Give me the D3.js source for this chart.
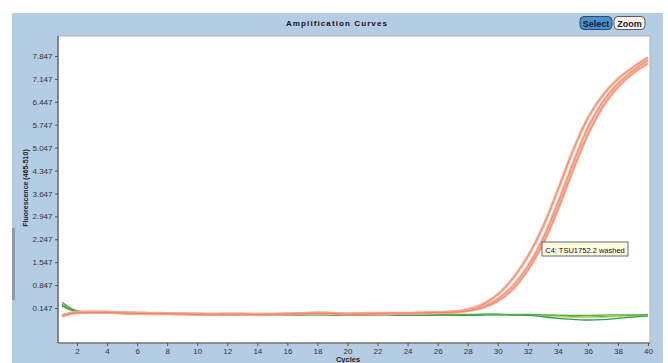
<!DOCTYPE html>
<html><head><meta charset="utf-8">
<script src="https://cdn.jsdelivr.net/npm/d3@7"></script>
<style>
html,body{margin:0;padding:0;background:#fff;}
svg{display:block;}
text{font-family:"Liberation Sans Narrow","Liberation Sans",Arial,sans-serif;}
</style></head>
<body>
<svg id="c" width="668" height="363"></svg>
<script>
const cycles = d3.range(1, 41);
const xTicks = d3.range(2, 41, 2);
const yTicks = [0.147, 0.847, 1.547, 2.247, 2.947, 3.647, 4.347, 5.047, 5.747, 6.447, 7.147, 7.847];

const red1 = [-0.10, 0.02, 0.03, 0.02, 0.01, 0.00, -0.01, -0.02, -0.03, -0.03, -0.04, -0.03, -0.04, -0.05, -0.04, -0.03, -0.02, 0.00, -0.01, -0.03, -0.02, -0.01, -0.02, -0.02, -0.01, 0.00, 0.03, 0.10, 0.26, 0.56, 1.05, 1.72, 2.62, 3.75, 4.95, 5.95, 6.65, 7.15, 7.50, 7.80];
const red2 = [-0.08, 0.01, 0.02, 0.02, 0.00, -0.01, -0.02, -0.02, -0.04, -0.04, -0.05, -0.04, -0.05, -0.04, -0.05, -0.04, -0.03, -0.01, -0.02, -0.03, -0.03, -0.02, -0.02, -0.01, -0.01, 0.01, 0.02, 0.07, 0.19, 0.42, 0.82, 1.42, 2.25, 3.35, 4.55, 5.65, 6.45, 7.00, 7.40, 7.72];
const red3 = [-0.09, 0.00, 0.01, 0.01, -0.01, -0.02, -0.02, -0.03, -0.03, -0.05, -0.05, -0.05, -0.04, -0.06, -0.05, -0.04, -0.02, -0.01, -0.02, -0.04, -0.04, -0.03, -0.01, -0.02, 0.00, 0.01, 0.02, 0.06, 0.16, 0.36, 0.72, 1.30, 2.10, 3.15, 4.35, 5.45, 6.30, 6.90, 7.32, 7.62];

const green1 = [0.32, 0.06, 0.02, 0.01, -0.01, -0.02, -0.03, -0.04, -0.04, -0.05, -0.06, -0.05, -0.06, -0.07, -0.06, -0.07, -0.06, -0.05, -0.06, -0.06, -0.07, -0.05, -0.06, -0.06, -0.07, -0.06, -0.06, -0.07, -0.05, -0.05, -0.06, -0.06, -0.08, -0.10, -0.12, -0.13, -0.12, -0.10, -0.09, -0.08];
const green2 = [0.22, 0.04, 0.01, 0.00, -0.02, -0.03, -0.03, -0.05, -0.05, -0.06, -0.07, -0.07, -0.08, -0.08, -0.07, -0.08, -0.07, -0.06, -0.07, -0.08, -0.08, -0.06, -0.07, -0.08, -0.08, -0.07, -0.07, -0.08, -0.07, -0.06, -0.07, -0.08, -0.12, -0.17, -0.20, -0.22, -0.21, -0.17, -0.13, -0.10];
const green3 = [0.26, 0.05, 0.02, 0.01, 0.00, -0.02, -0.02, -0.03, -0.04, -0.04, -0.05, -0.06, -0.05, -0.06, -0.06, -0.05, -0.05, -0.04, -0.05, -0.05, -0.06, -0.05, -0.05, -0.05, -0.06, -0.05, -0.05, -0.05, -0.04, -0.04, -0.05, -0.05, -0.06, -0.07, -0.08, -0.08, -0.07, -0.06, -0.06, -0.05];
const yellow1 = [0.18, 0.03, 0.01, 0.00, -0.01, -0.03, -0.04, -0.04, -0.05, -0.06, -0.07, -0.06, -0.07, -0.07, -0.08, -0.07, -0.06, -0.06, -0.06, -0.07, -0.08, -0.07, -0.06, -0.07, -0.07, -0.06, -0.07, -0.07, -0.06, -0.06, -0.06, -0.07, -0.09, -0.12, -0.14, -0.15, -0.14, -0.12, -0.10, -0.09];

const svg = d3.select("#c");
// panel
svg.append("rect").attr("x", 12).attr("y", 13).attr("width", 651).attr("height", 350).attr("fill", "#b5cde4");
svg.append("rect").attr("x", 12).attr("y", 228).attr("width", 3).attr("height", 72).attr("fill", "#8f9aa6");

const L = 58, R = 650, T = 36, B = 343;
const x = d3.scaleLinear().domain([1, 40]).range([62, 648]);
const y = d3.scaleLinear().domain([0.147, 7.847]).range([308, 56]);

svg.append("rect").attr("x", L).attr("y", T).attr("width", R - L).attr("height", B - T)
  .attr("fill", "#fff").attr("stroke", "#b9b2b0").attr("stroke-width", 1);

// title
svg.append("text").attr("x", 337).attr("y", 26).attr("text-anchor", "middle")
  .attr("font-size", 8).attr("font-weight", "bold").attr("letter-spacing", "1.1px")
  .style("font-family", "'Liberation Sans',Arial,sans-serif").attr("fill", "#111").text("Amplification Curves");

// buttons
const btn = svg.append("g");
btn.append("rect").attr("x", 580).attr("y", 16.5).attr("width", 32).attr("height", 13).attr("rx", 4)
  .attr("fill", "#4d8fcb").attr("stroke", "#2d4a66").attr("stroke-width", 1);
btn.append("text").attr("x", 596).attr("y", 26.5).attr("text-anchor", "middle").attr("font-size", 9)
  .attr("font-weight", "bold").attr("fill", "#0e1e33").text("Select");
btn.append("rect").attr("x", 614).attr("y", 16.5).attr("width", 31).attr("height", 13).attr("rx", 4)
  .attr("fill", "#fdf3ee").attr("stroke", "#5a5a5a").attr("stroke-width", 1);
btn.append("text").attr("x", 629.5).attr("y", 26.5).attr("text-anchor", "middle").attr("font-size", 9)
  .attr("font-weight", "bold").attr("fill", "#222").text("Zoom");

// axes
const yAxis = d3.axisLeft(y).tickValues(yTicks).tickSize(3).tickFormat(d3.format(".3f"));
const gy = svg.append("g").attr("transform", `translate(${L},0)`).call(yAxis);
gy.select(".domain").remove();
gy.selectAll("line").attr("stroke", "#555");
gy.selectAll("text").attr("font-size", 8).attr("fill", "#333").attr("dx", "0.5");

const xAxis = d3.axisBottom(x).tickValues(xTicks).tickSize(3).tickPadding(2);
const gx = svg.append("g").attr("transform", `translate(0,${B})`).call(xAxis);
gx.select(".domain").remove();
gx.selectAll("line").attr("stroke", "#555");
gx.selectAll("text").attr("font-size", 8).attr("fill", "#333");

svg.append("line").attr("x1", L).attr("x2", L).attr("y1", T).attr("y2", B).attr("stroke", "#555").attr("stroke-width", 1.2);
svg.append("line").attr("x1", L).attr("x2", R).attr("y1", B).attr("y2", B).attr("stroke", "#555").attr("stroke-width", 1.2);

svg.append("text").attr("transform", "translate(28,188) rotate(-90)").attr("text-anchor", "middle")
  .attr("font-size", 7).attr("font-weight", "bold").attr("fill", "#222").text("Fluorescence (465-510)");
svg.append("text").attr("x", 348).attr("y", 362).attr("text-anchor", "middle")
  .attr("font-size", 7.5).attr("font-weight", "bold").attr("fill", "#222").text("Cycles");

// curves
const line = d3.line().x((d, i) => x(cycles[i])).y(d => y(d)).curve(d3.curveMonotoneX);
const plot = svg.append("g");
const greens = [[green1, "#3caa48"], [yellow1, "#d9d45a"], [green2, "#2f9e55"], [green3, "#4bb04a"]];
greens.forEach(([s, c]) => plot.append("path").attr("d", line(s)).attr("fill", "none").attr("stroke", c).attr("stroke-width", 1.3));
[red1, red2, red3].forEach(s => {
  plot.append("path").attr("d", line(s)).attr("fill", "none").attr("stroke", "#f7a88e").attr("stroke-width", 3).attr("stroke-opacity", 0.8);
  plot.append("path").attr("d", line(s)).attr("fill", "none").attr("stroke", "#ee7050").attr("stroke-width", 1).attr("stroke-opacity", 0.7);
});

// tooltip
const tip = svg.append("g");
tip.append("rect").attr("x", 542).attr("y", 242).attr("width", 86).attr("height", 14)
  .attr("fill", "#fdfbe0").attr("stroke", "#444").attr("stroke-width", 0.8);
tip.append("text").attr("x", 585).attr("y", 252.5).attr("text-anchor", "middle").attr("font-size", 7.5)
  .attr("fill", "#111").text("C4: TSU1752.2 washed");
</script>
</body></html>
